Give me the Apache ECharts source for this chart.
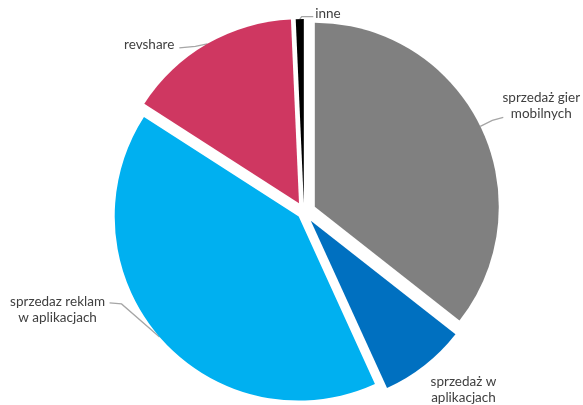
<!DOCTYPE html>
<html>
<head>
<meta charset="utf-8">
<script src="https://cdn.jsdelivr.net/npm/echarts@6/dist/echarts.min.js"></script>
<style>
  html, body { margin: 0; padding: 0; background: #ffffff; }
  #chart { width: 583px; height: 405px; }
</style>
</head>
<body>
<div id="chart"></div>
<script>
// Revenue structure by source (share, %)
const categories = [
  'sprzedaż gier\nmobilnych',
  'sprzedaż w\naplikacjach',
  'sprzedaz reklam\nw aplikacjach',
  'revshare',
  'inne'
];
const values = [35.6, 7.6, 40.9, 15.2, 0.7];

// Slice styling
const colors = ['#808080', '#0070C0', '#00B0F0', '#CF3761', '#000000'];
const explode = [12, 11, 7, 10, 9];          // pull-out distance of each slice, px
// Label placement, relative to the outer mid-point of each slice
const labelPlacement = [
  { dx: 61,   dy: -20.5, align: 'center', line: [[12, -6], [23, -9]] },
  { dx: 39,   dy: 24,    align: 'center', line: null },
  { dx: -102, dy: -27,   align: 'center', line: [[-38, -33], [-50, -34]] },
  { dx: -33,  dy: 1,     align: 'right',  line: [[-12, 2.5], [-28, 4]] },
  { dx: 15.5, dy: -5,    align: 'left',   line: [[2, -2.5], [13.5, -2.5]] }
];
const baseCenter = [304, 212];
const radius = 184;

const total = values.reduce((a, b) => a + b, 0);
let cum = 0;
const midAngles = values.map(v => {
  const m = (cum + v / 2) / total * 2 * Math.PI; // clockwise from 12 o'clock
  cum += v;
  return m;
});

// One series per slice so that every slice can be pulled out by its own distance
const series = values.map((_, i) => {
  const a = midAngles[i];
  const cx = baseCenter[0] + explode[i] * Math.sin(a);
  const cy = baseCenter[1] - explode[i] * Math.cos(a);
  const place = labelPlacement[i];
  return {
    type: 'pie',
    center: [cx, cy],
    radius: radius,
    startAngle: 90,
    clockwise: true,
    silent: true,
    animation: false,
    avoidLabelOverlap: false,
    emphasis: { disabled: true },
    label: {
      position: 'outside',
      formatter: '{b}',
      color: '#404040',
      fontFamily: 'Lato',
      fontSize: 13.5,
      lineHeight: 16
    },
    labelLine: {
      lineStyle: { color: '#A6A6A6', width: 1.3 }
    },
    labelLayout: function (p) {
      let p0 = p.labelLinePoints && p.labelLinePoints[0];
      if (!p0) {
        p0 = [cx + radius * Math.sin(a), cy - radius * Math.cos(a)];
      }
      const pts = place.line
        ? [p0].concat(place.line.map(q => [p0[0] + q[0], p0[1] + q[1]]))
        : [p0, p0, p0];
      return {
        x: p0[0] + place.dx,
        y: p0[1] + place.dy,
        align: place.align,
        verticalAlign: 'middle',
        labelLinePoints: pts
      };
    },
    data: values.map((v, j) => ({
      name: categories[j],
      value: v,
      itemStyle: { color: j === i ? colors[j] : 'rgba(0,0,0,0)' },
      label: { show: j === i },
      labelLine: { show: j === i }
    }))
  };
});

const chart = echarts.init(document.getElementById('chart'), null, { renderer: 'canvas' });
chart.setOption({
  backgroundColor: '#ffffff',
  animation: false,
  series: series
});
</script>
</body>
</html>
